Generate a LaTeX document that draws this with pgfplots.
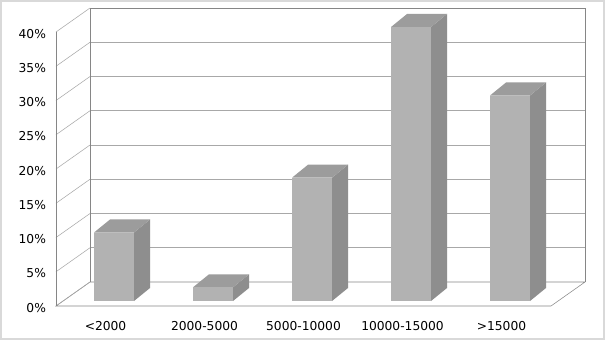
\documentclass[border=0pt]{standalone}
\usepackage{fontspec}
\setmainfont{DejaVu Sans}
\usepackage{pgfplots}
\usepackage{pgfplotstable}
\pgfplotsset{compat=1.18}
\definecolor{barfront}{HTML}{B2B2B2}
\definecolor{bartop}{HTML}{9C9C9C}
\definecolor{barside}{HTML}{8E8E8E}
\definecolor{wall}{HTML}{868686}
\definecolor{gridc}{HTML}{A8A8A8}
\pgfplotstableread{
idx v
0 10
1 2
2 18
3 40
4 30
}\data
\begin{document}
\begin{tikzpicture}
\useasboundingbox (-42pt,-25.5pt) rectangle (411.75pt,229.5pt);
\draw[draw=gray!30, line width=1.2pt, fill=white] (-41.4pt,-24.9pt) rectangle (411.15pt,228.9pt);
\begin{axis}[
  at={(0pt,0pt)}, anchor=south west,
  scale only axis, width=371.25pt, height=205.5pt,
  xmin=0, xmax=5, ymin=0, ymax=40, clip=false,
  axis line style={draw=none}, major tick length=0pt,
  ytick={0,5,...,40},
  yticklabel={\pgfmathprintnumber{\tick}\%},
  xtick={0.5,1.5,2.5,3.5,4.5},
  xticklabels={<2000,2000-5000,5000-10000,10000-15000,>15000},
  ticklabel style={font=\fontsize{9.2}{10}\selectfont, text=black},
  yticklabel style={xshift=-4pt, yshift=-1.2pt},
  xticklabel style={yshift=-8pt},
  /pgf/number format/assume math mode=true,
]
% floor
\addplot[draw=wall, fill=white, mark=none] coordinates {(0,0) (5,0) (5.3434,3.504) (0.3434,3.504)} -- cycle;
% walls
\pgfplotsforeachungrouped \k in {0,5,...,40}{%
  \pgfmathsetmacro\kb{\k+3.504}%
  \edef\temp{\noexpand\addplot[draw=gridc, mark=none] coordinates {(0,\k) (0.3434,\kb)};}\temp
  \ifnum\k>0
  \edef\temp{\noexpand\addplot[draw=gridc, mark=none] coordinates {(0.3434,\kb) (5.3434,\kb)};}\temp
  \fi
}
\addplot[draw=wall, mark=none] coordinates {(0,0) (0,40)};
\addplot[draw=wall, mark=none] coordinates {(0.3434,3.504) (0.3434,43.504)};
\addplot[draw=wall, mark=none] coordinates {(5.3434,3.504) (5.3434,43.504)};
\addplot[draw=wall, mark=none] coordinates {(0.3434,43.504) (5.3434,43.504)};
% bars
\pgfplotsforeachungrouped \i in {0,...,4}{%
  \pgfplotstablegetelem{\i}{v}\of\data
  \pgfmathsetmacro\yb{0.73}%
  \pgfmathsetmacro\yt{0.73+\pgfplotsretval}%
  \pgfmathsetmacro\xl{\i+0.586-0.202}%
  \pgfmathsetmacro\xr{\i+0.586+0.202}%
  \pgfmathsetmacro\xlb{\xl+0.1616}%
  \pgfmathsetmacro\xrb{\xr+0.1616}%
  \pgfmathsetmacro\ybb{\yb+1.9}%
  \pgfmathsetmacro\ytb{\yt+1.9}%
  \edef\temp{\noexpand\addplot[draw=none, fill=barside, mark=none] coordinates {(\xr,\yb) (\xrb,\ybb) (\xrb,\ytb) (\xr,\yt)} -- cycle;}\temp
  \edef\temp{\noexpand\addplot[draw=none, fill=bartop, mark=none] coordinates {(\xl,\yt) (\xr,\yt) (\xrb,\ytb) (\xlb,\ytb)} -- cycle;}\temp
  \edef\temp{\noexpand\addplot[draw=none, fill=barfront, mark=none] coordinates {(\xl,\yb) (\xr,\yb) (\xr,\yt) (\xl,\yt)} -- cycle;}\temp
}
\end{axis}
\end{tikzpicture}
\end{document}
